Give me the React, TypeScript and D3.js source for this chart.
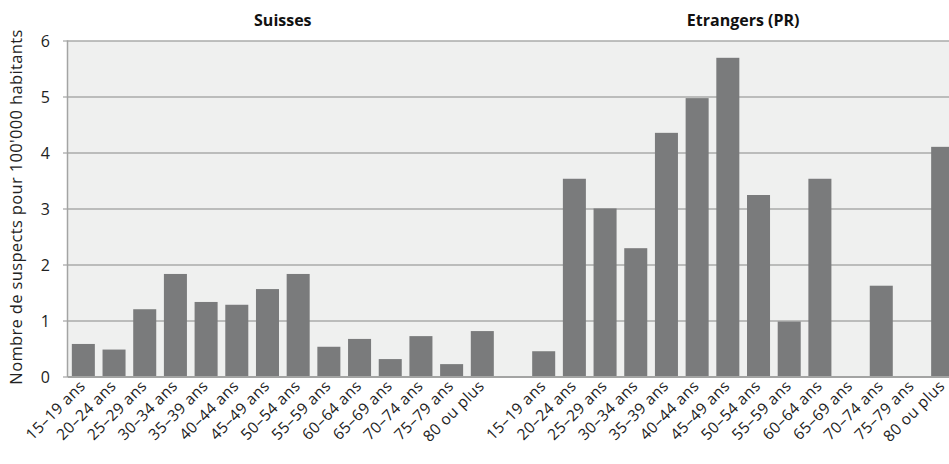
import React from "react";
import * as d3 from "d3";

const ageGroups = [
  "15–19 ans", "20–24 ans", "25–29 ans", "30–34 ans", "35–39 ans", "40–44 ans", "45–49 ans",
  "50–54 ans", "55–59 ans", "60–64 ans", "65–69 ans", "70–74 ans", "75–79 ans", "80 ou plus",
];
const groupTitles = ["Suisses", "Etrangers (PR)"];
const suisses = [0.59, 0.49, 1.21, 1.84, 1.34, 1.29, 1.57, 1.84, 0.54, 0.68, 0.32, 0.73, 0.23, 0.82];
const etrangers = [0.46, 3.54, 3.01, 2.3, 4.36, 4.98, 5.7, 3.25, 0.99, 3.54, 0, 1.63, 0, 4.11];
const yTicks = [0, 1, 2, 3, 4, 5, 6];
const yLabel = "Nombre de suspects pour 100'000 habitants";

const W = 949;
const H = 464;
const FONT = "'Open Sans', 'DejaVu Sans', sans-serif";

export default function App() {
  const keys = [
    ...ageGroups.map((a) => "S|" + a),
    "gap",
    ...ageGroups.map((a) => "E|" + a),
  ];
  const values = [...suisses, null, ...etrangers];
  const x = d3.scaleBand<string>().domain(keys).range([68, 958]).paddingInner(0.25).paddingOuter(0.125);
  const y = d3.scaleLinear().domain([0, 6]).range([377, 41]);
  const left = 67.5;

  const groupCenter = (prefix: string) => {
    const first = x(prefix + "|" + ageGroups[0])! + x.bandwidth() / 2;
    const last = x(prefix + "|" + ageGroups[ageGroups.length - 1])! + x.bandwidth() / 2;
    return (first + last) / 2;
  };

  return (
    <div style={{ position: "absolute", left: 0, top: 0 }}>
      <svg width={W} height={H} style={{ display: "block", overflow: "hidden" }} fontFamily={FONT}>
        <rect x={0} y={0} width={W} height={H} fill="#ffffff" />
        <rect x={left} y={y(6)} width={W - left} height={y(0) - y(6)} fill="#eff0ef" />
        {yTicks.map((t) => (
          <g key={t}>
            {t > 0 && (
              <line x1={left} x2={W} y1={y(t)} y2={y(t)} stroke="#aaabaa" strokeWidth={1.5} />
            )}
            <line x1={left - 4.5} x2={left} y1={y(t)} y2={y(t)} stroke="#a3a4a3" strokeWidth={1.2} />
            <text x={50} y={y(t)} dy="0.36em" textAnchor="end" fontSize={16} fill="#222">
              {t}
            </text>
          </g>
        ))}
        {keys.map((k, i) => {
          const v = values[i];
          if (v === null || v === 0) return null;
          return (
            <rect
              key={k}
              x={x(k)!}
              y={y(v)}
              width={x.bandwidth()}
              height={y(0) - y(v)}
              fill="#7a7b7c"
            />
          );
        })}
        <line x1={left} x2={left} y1={y(6) - 0.75} y2={y(0)} stroke="#a3a4a3" strokeWidth={1.5} />
        <line x1={left} x2={W} y1={y(0)} y2={y(0)} stroke="#a3a4a3" strokeWidth={2} />
        {keys.map((k) => {
          if (k === "gap") return null;
          const label = k.split("|")[1];
          const cx = x(k)! + x.bandwidth() / 2 + 3;
          const cy = 387;
          return (
            <text
              key={"l" + k}
              x={cx}
              y={cy}
              textAnchor="end"
              fontSize={15.5}
              letterSpacing={0.4}
              fill="#222"
              transform={`rotate(-45 ${cx} ${cy})`}
            >
              {label}
            </text>
          );
        })}
        <text x={groupCenter("S")} y={26} textAnchor="middle" fontSize={16} fontWeight="bold" fill="#111">
          {groupTitles[0]}
        </text>
        <text x={groupCenter("E")} y={26} textAnchor="middle" fontSize={16} fontWeight="bold" fill="#111">
          {groupTitles[1]}
        </text>
        <text
          transform={`translate(22, ${(y(0) + y(6)) / 2 - 2}) rotate(-90)`}
          textAnchor="middle"
          fontSize={16.5}
          letterSpacing={0.35}
          fill="#222"
        >
          {yLabel}
        </text>
      </svg>
    </div>
  );
}
